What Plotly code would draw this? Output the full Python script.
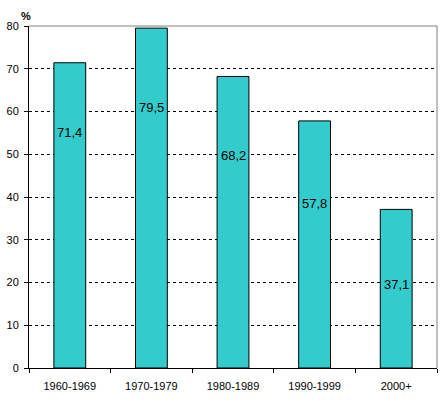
import plotly.graph_objects as go

categories = ["1960-1969", "1970-1979", "1980-1989", "1990-1999", "2000+"]
values = [71.4, 79.5, 68.2, 57.8, 37.1]
value_labels = ["71,4", "79,5", "68,2", "57,8", "37,1"]
y_ticks = [0, 10, 20, 30, 40, 50, 60, 70, 80]

# vertical placement of the in-bar labels (data units)
label_y = [55.0, 61.0, 49.8, 38.4, 19.5]

font = dict(family="Liberation Sans, Arial, sans-serif", size=11, color="black")
label_font = dict(family="Liberation Sans, Arial, sans-serif", size=13, color="black")

fig = go.Figure()
fig.add_trace(go.Bar(
    x=categories, y=values,
    marker=dict(color="#33CCCC", line=dict(color="black", width=1)),
    hoverinfo="skip",
))

for c, ly, t in zip(categories, label_y, value_labels):
    fig.add_annotation(x=c, y=ly, text=t, showarrow=False, font=label_font,
                       xanchor="center", yanchor="middle")

fig.add_annotation(x=0, y=1, xref="paper", yref="paper", text="<b>%</b>",
                   showarrow=False, font=dict(family="Liberation Sans, Arial, sans-serif", size=11, color="black"),
                   xanchor="center", yanchor="bottom", xshift=-3, yshift=2)

# gray frame on top and right
fig.add_shape(type="line", xref="paper", yref="paper", x0=0, x1=1, y0=1, y1=1,
              line=dict(color="#808080", width=1))
fig.add_shape(type="line", xref="paper", yref="paper", x0=1, x1=1, y0=0, y1=1,
              line=dict(color="#808080", width=1))

fig.update_layout(
    width=441, height=405,
    margin=dict(l=29, r=4, t=26, b=37),
    paper_bgcolor="white", plot_bgcolor="white",
    bargap=0.61,
    showlegend=False,
    font=font,
    xaxis=dict(
        type="category", showline=True, linecolor="black", linewidth=1,
        ticks="outside", ticklen=4, tickcolor="black", tickson="boundaries",
        showgrid=False, tickfont=font, automargin=False, ticklabelstandoff=8,
    ),
    yaxis=dict(
        range=[0, 80], tickvals=y_ticks, showline=True, linecolor="black", linewidth=1,
        ticks="outside", ticklen=4, tickcolor="black",
        showgrid=True, gridcolor="black", gridwidth=1, griddash="3px,3px",
        zeroline=False, tickfont=font, fixedrange=True, automargin=False,
        ticklabelstandoff=3,
    ),
)

fig.write_html("out.html", config={"displayModeBar": False},
               post_script="document.body.style.margin='0';document.body.style.overflow='hidden';")
